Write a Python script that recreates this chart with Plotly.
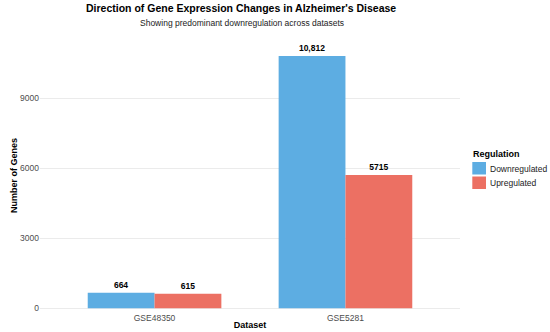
import plotly.graph_objects as go

datasets = ["GSE48350", "GSE5281"]
down_vals = [664, 10812]
up_vals = [615, 5715]
down_labels = ["664", "10,812"]
up_labels = ["615", "5715"]
series_names = ["Downregulated", "Upregulated"]
series_colors = ["#5DADE2", "#EC7063"]
y_ticks = [0, 3000, 6000, 9000]

FONT = "Liberation Sans, Arial, sans-serif"
W, H = 550, 332
L, R, T, B = 40, 90, 40, 21
PW, PH = W - L - R, H - T - B

def px(x):  # screen x -> paper
    return (x - L) / PW

def py(y):  # screen y -> paper
    return (H - B - y) / PH

fig = go.Figure()
for name, vals, labels, color in [(series_names[0], down_vals, down_labels, series_colors[0]),
                                  (series_names[1], up_vals, up_labels, series_colors[1])]:
    fig.add_trace(go.Bar(x=datasets, y=vals, name=name,
                         marker=dict(color=color, line=dict(width=0)),
                         text=labels, textposition="outside",
                         textfont=dict(family=FONT, size=8.5, color="black", weight="bold"),
                         cliponaxis=False, showlegend=False))

# ggplot-style legend drawn at the right
shapes = []
annotations = [
    dict(text="Showing predominant downregulation across datasets",
         xref="paper", x=px(138), xanchor="left", yref="paper", y=py(23), yanchor="middle",
         showarrow=False, font=dict(family=FONT, size=8.5, color="#222")),
    dict(text="<b>Regulation</b>", xref="paper", x=px(471), xanchor="left",
         yref="paper", y=py(154), yanchor="middle", showarrow=False,
         font=dict(family=FONT, size=9, color="black")),
]
key_tops = [162, 176.5]
for name, color, top in zip(series_names, series_colors, key_tops):
    shapes.append(dict(type="rect", xref="paper", yref="paper",
                       x0=px(472.3), x1=px(486), y0=py(top + 12.5), y1=py(top),
                       fillcolor=color, line=dict(width=0)))
    annotations.append(dict(text=name, xref="paper", x=px(488), xanchor="left",
                            yref="paper", y=py(top + 6.5), yanchor="middle", showarrow=False,
                            font=dict(family=FONT, size=8.5, color="#222")))

fig.update_layout(
    width=W, height=H,
    margin=dict(l=L, r=R, t=T, b=B, autoexpand=False),
    plot_bgcolor="white", paper_bgcolor="white",
    barmode="group", bargap=0.3, bargroupgap=0,
    font=dict(family=FONT, size=8.5, color="#4D4D4D"),
    title=dict(text="<b>Direction of Gene Expression Changes in Alzheimer's Disease</b>",
               xref="container", x=86 / W, xanchor="left",
               yref="container", y=1 - 8.5 / H, yanchor="middle",
               font=dict(family=FONT, size=10.5, color="black")),
    annotations=annotations,
    shapes=shapes,
    showlegend=False,
    xaxis=dict(range=[-0.6, 1.6], showgrid=False, zeroline=False, ticks="", automargin=False,
               tickfont=dict(size=8.5, color="#4D4D4D"),
               title=dict(text="<b>Dataset</b>", font=dict(size=9, color="black"), standoff=0)),
    yaxis=dict(range=[-120, 11500], tickvals=y_ticks, ticktext=[str(v) for v in y_ticks],
               showgrid=True, gridcolor="#EBEBEB", gridwidth=1, zeroline=False, ticks="",
               automargin=False,
               tickfont=dict(size=8.5, color="#4D4D4D"),
               title=dict(text="<b>Number of Genes</b>", font=dict(size=9, color="black"), standoff=0)),
)

fig.write_html("out.html", config={"displayModeBar": False},
               post_script="document.body.style.margin='0px';")
